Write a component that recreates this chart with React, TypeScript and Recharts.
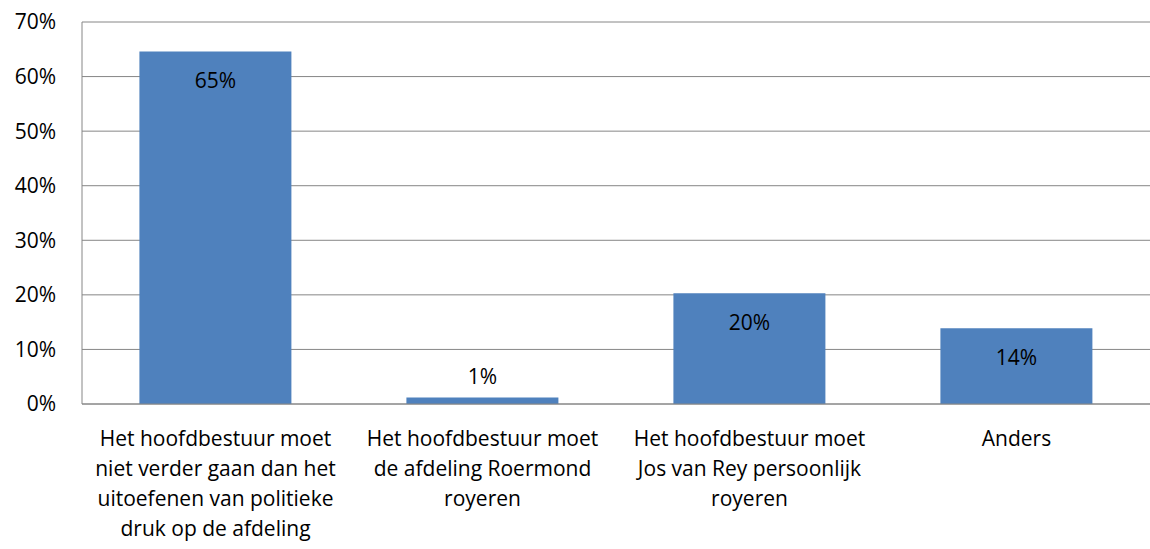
import React from 'react';
import { BarChart, Bar, XAxis, YAxis, CartesianGrid, LabelList } from 'recharts';

const categories: string[][] = [
  ['Het hoofdbestuur moet', 'niet verder gaan dan het', 'uitoefenen van politieke', 'druk op de afdeling'],
  ['Het hoofdbestuur moet', 'de afdeling Roermond', 'royeren'],
  ['Het hoofdbestuur moet', 'Jos van Rey persoonlijk', 'royeren'],
  ['Anders'],
];
const shares: number[] = [0.646, 0.012, 0.203, 0.139];
const yTicks: number[] = [0, 0.1, 0.2, 0.3, 0.4, 0.5, 0.6, 0.7];

const data = categories.map((lines, i) => ({ name: lines.join(' '), lines, value: shares[i] }));

const FONT = '"Open Sans", sans-serif';
const SIZE = 21;

const pct = (v: number) => `${Math.round(v * 100)}%`;

const CategoryTick = (props: any) => {
  const { x, y, index } = props;
  const lines: string[] = data[index]?.lines ?? [];
  return (
    <text x={x} y={y} textAnchor="middle" fontFamily={FONT} fontSize={SIZE} fill="#000">
      {lines.map((l, i) => (
        <tspan key={i} x={x} dy={i === 0 ? 34 : 30}>
          {l}
        </tspan>
      ))}
    </text>
  );
};

const BarValueLabel = (props: any) => {
  const { x = 0, y = 0, width = 0, height = 0, value = 0 } = props;
  const inside = height > 40;
  return (
    <text
      x={x + width / 2}
      y={inside ? y + 31 : y - 19}
      textAnchor="middle"
      dominantBaseline="middle"
      fontFamily={FONT}
      fontSize={SIZE}
      fill="#000"
    >
      {pct(value)}
    </text>
  );
};

export default function App() {
  return (
    <div style={{ position: 'absolute', left: 0, top: 0, background: '#fff' }}>
      <BarChart
        width={1150}
        height={549}
        data={data}
        margin={{ top: 22, right: 0, left: 0, bottom: 0 }}
        barCategoryGap="21.5%"
      >
        <CartesianGrid vertical={false} stroke="#868686" strokeWidth={1} />
        <XAxis
          dataKey="name"
          height={145}
          tickLine={false}
          axisLine={{ stroke: '#868686' }}
          interval={0}
          tick={<CategoryTick />}
        />
        <YAxis
          width={82}
          domain={[0, 0.7]}
          ticks={yTicks}
          tickFormatter={pct}
          tickLine={false}
          tickSize={0}
          tickMargin={26}
          axisLine={{ stroke: '#868686' }}
          tick={{ fontFamily: FONT, fontSize: SIZE, fill: '#000' }}
        />
        <Bar dataKey="value" fill="#4F81BD" isAnimationActive={false}>
          <LabelList dataKey="value" content={<BarValueLabel />} />
        </Bar>
      </BarChart>
    </div>
  );
}
